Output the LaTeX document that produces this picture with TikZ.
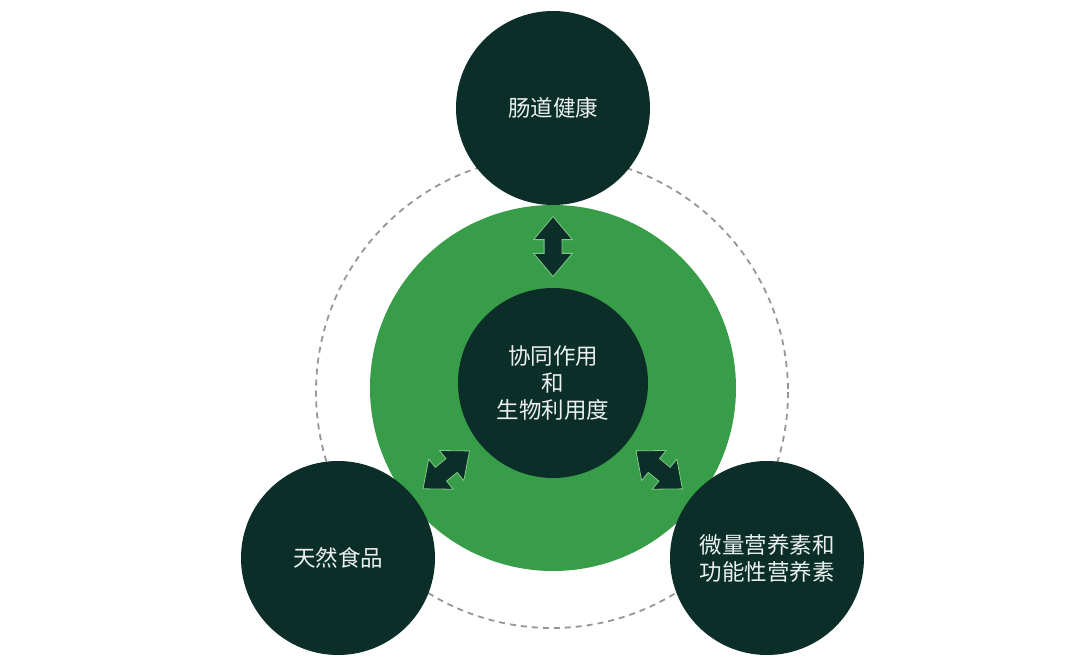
\documentclass[tikz,border=0pt]{standalone}
\usepackage{fontspec}
\usepackage{xcolor}
\usepackage{tikz}
\usetikzlibrary{shapes.arrows,calc}
\newfontfamily\cjk{Noto Sans CJK SC}
\definecolor{deepgreen}{RGB}{11,47,40}
\definecolor{leafgreen}{RGB}{56,157,72}
\definecolor{rimgreen}{RGB}{130,200,140}
\definecolor{dashgray}{RGB}{150,150,150}
\definecolor{txtwhite}{RGB}{235,240,238}

\begin{document}
\begin{tikzpicture}[
      x=1pt, y=-1pt,
      sat/.style={circle, fill=deepgreen, inner sep=0pt, minimum size=194pt, align=center,
        text=txtwhite, font=\cjk\fontsize{22.5}{27}\selectfont},
      ring/.style={circle, fill=leafgreen, inner sep=0pt, minimum size=366pt},
      orbit/.style={draw=dashgray, line width=1.8pt, dash pattern=on 6pt off 5pt},
      dbl/.style={double arrow, fill=deepgreen, draw=rimgreen, line width=0.8pt,
        inner xsep=0pt, inner ysep=8.5pt, minimum height=60pt, minimum width=38pt,
        double arrow head extend=10.5pt, double arrow tip angle=80, sloped}
    ]
      \useasboundingbox (0,0) rectangle (1080,668);
      \draw[orbit] (552,392) circle[radius=236];
      \node[ring] (field) at (553,388) {};
      \node[sat] (gut) at (553,108) {肠道健康};
      \node[sat] (food) at (338,558) {天然食品};
      \node[sat] (micro) at (767,558) {微量营养素和\\功能性营养素};
      \node[sat, minimum size=190pt] (core) at (553,383) {协同作用\\和\\生物利用度};
      % two-way links
      \path (core) -- node[dbl] (a1) {} (gut);
      \path (core) -- node[dbl] (a2) {} (food);
      \path (core) -- node[dbl] (a3) {} (micro);
    \end{tikzpicture}
\end{document}
